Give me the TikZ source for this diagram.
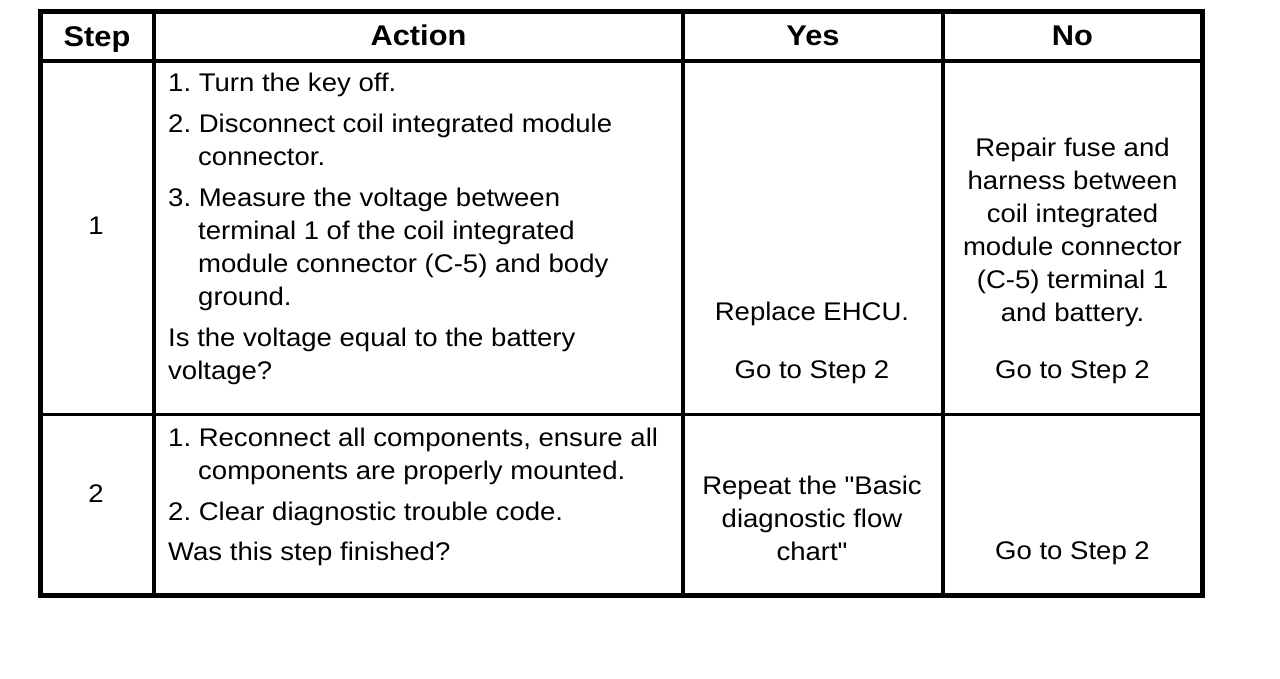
\documentclass[tikz,border=0pt]{standalone}
\usepackage{fontspec}
\setmainfont{Liberation Sans}[FakeStretch=1.08,Ligatures=TeXOff]
\frenchspacing
\begin{document}
\begin{tikzpicture}[x=1pt,y=-1pt,
  outer/.style={line width=5pt,line join=miter},
  vline/.style={line width=4pt},
  hline/.style={line width=3.3pt},
  head/.style={anchor=base,inner sep=0pt,font=\fontsize{28.5}{32}\selectfont\bfseries},
  cell/.style={anchor=base,inner sep=0pt,font=\fontsize{25.5}{33}\selectfont},
  lcell/.style={anchor=base west,inner sep=0pt,font=\fontsize{25.5}{33}\selectfont}]
\useasboundingbox (0,0) rectangle (1280,678);
\fill[white] (0,0) rectangle (1280,678);
% grid coordinates
\coordinate (tl) at (40,11.7);
\coordinate (br) at (1202.3,595.7);
\coordinate (c1t) at (153.7,11.7); \coordinate (c1b) at (153.7,595.7);
\coordinate (c2t) at (683,11.7);   \coordinate (c2b) at (683,595.7);
\coordinate (c3t) at (943,11.7);   \coordinate (c3b) at (943,595.7);
\coordinate (h1l) at (40,61);      \coordinate (h1r) at (1202.3,61);
\coordinate (h2l) at (40,414.3);   \coordinate (h2r) at (1202.3,414.3);
\draw[vline] (c1t) -- (c1b);
\draw[vline] (c2t) -- (c2b);
\draw[vline] (c3t) -- (c3b);
\draw[hline] (h1l) -- (h1r);
\draw[hline] (h2l) -- (h2r);
\draw[outer] (tl) rectangle (br);
% header
\node[head] (hstep) at (97,46) {Step};
\node[head] (haction) at (418.5,45.5) {Action};
\node[head] (hyes) at (813,45.5) {Yes};
\node[head] (hno) at (1072.5,45.5) {No};
% row 1
\node[cell] (s1) at (96,234.5) {1};
\node[lcell] (a1) at (168,91) {\parbox[t]{510pt}{\raggedright
1. Turn the key off.\\[8pt]
2. Disconnect coil integrated module\\
\hspace*{30pt}connector.\\[8pt]
3. Measure the voltage between\\
\hspace*{30pt}terminal 1 of the coil integrated\\
\hspace*{30pt}module connector (C-5) and body\\
\hspace*{30pt}ground.\\[8pt]
Is the voltage equal to the battery\\
voltage?}};
\node[cell] (y1) at (812,320) {\parbox[t]{250pt}{\centering
Replace EHCU.\\[25pt]
Go to Step 2}};
\node[cell] (n1) at (1072.5,156) {\parbox[t]{250pt}{\centering
Repair fuse and\\
harness between\\
coil integrated\\
module connector\\
(C-5) terminal 1\\
and battery.\\[24pt]
Go to Step 2}};
% row 2
\node[cell] (s2) at (96,502.5) {2};
\node[lcell] (a2) at (168,446) {\parbox[t]{510pt}{\raggedright
1. Reconnect all components, ensure all\\
\hspace*{30pt}components are properly mounted.\\[8pt]
2. Clear diagnostic trouble code.\\[7pt]
Was this step finished?}};
\node[cell] (y2) at (812,494) {\parbox[t]{250pt}{\centering
Repeat the "Basic\\
diagnostic flow\\
chart"}};
\node[cell] (n2) at (1072.5,559) {Go to Step 2};
\end{tikzpicture}
\end{document}
